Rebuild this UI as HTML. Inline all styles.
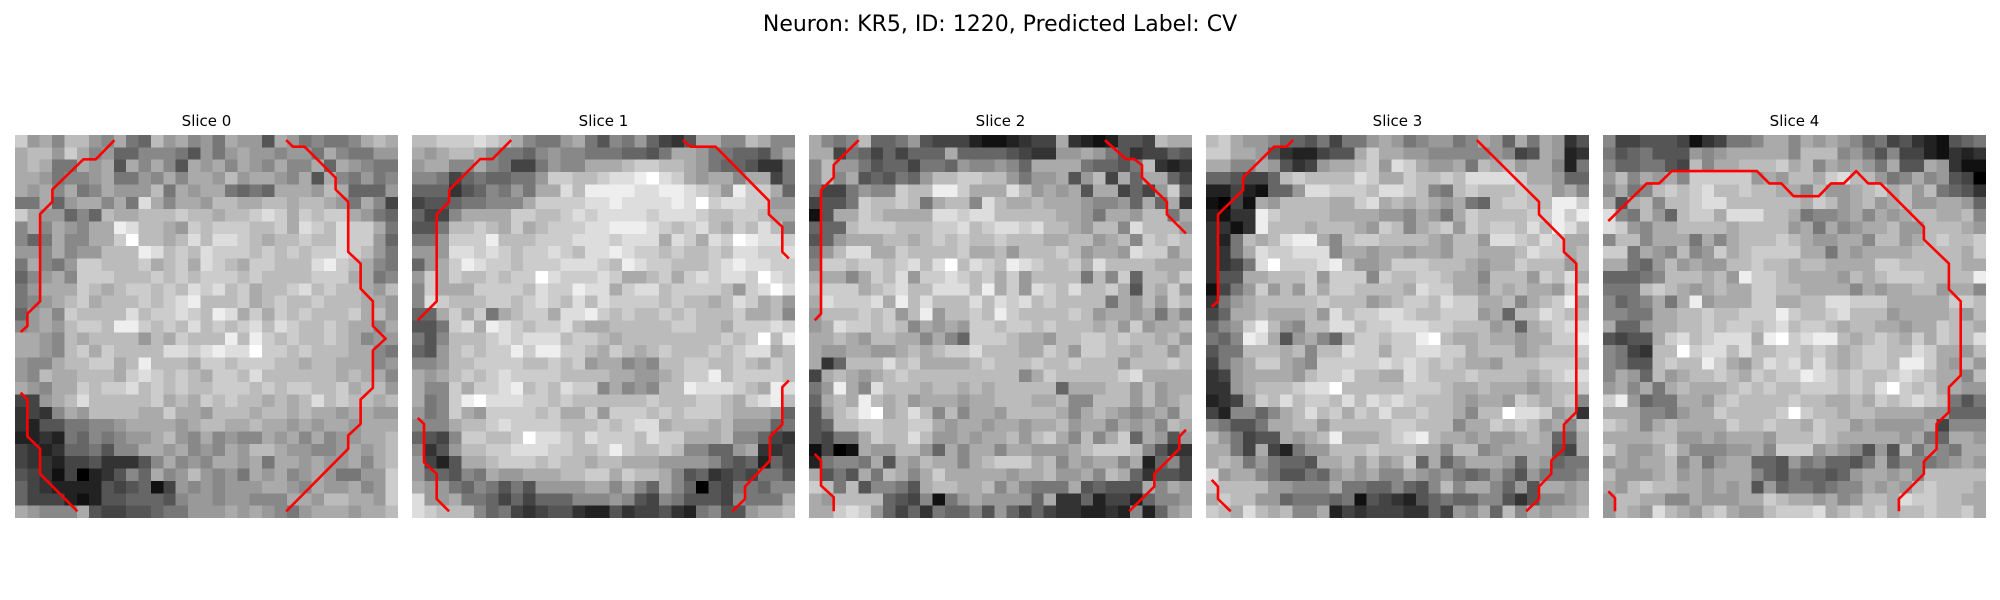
<!DOCTYPE html>
<html><head><meta charset="utf-8"><style>
html,body{margin:0;padding:0;background:#fff;}
svg{display:block;font-family:"DejaVu Sans","Liberation Sans",sans-serif;}
</style></head><body>
<svg id="fig" width="2000" height="600" viewBox="0 0 2000 600">
<text x="1000" y="31" text-anchor="middle" font-size="22" fill="#000">Neuron: KR5, ID: 1220, Predicted Label: CV</text>
</svg>
<script>
const sliceTitles=["Slice 0","Slice 1","Slice 2","Slice 3","Slice 4"];
const img0=["c9a8bb98a76b9a897a995a978778aba","abb9ca896688875979a998997a87799","aba77a9a5a8a85a9a8a98a88a6a9877","aa97889a7798a8aa9b9aa98a5a87978","a9a8a78a999b7a9aa7676aaa9ba6669","77a69aa8a7da8aa9bbaabbabba97a84","ca99686baabbbcbbabbcdcacbcca976","8a8a98aaedbba9cbcccbbcadcbdcca7","867a88aacfbbabdbddcbabbcbbdcc96","998a899bbbedbcbdcccbcbcbccdcb97","7a879ccbbbcabcadcbaccbbbdecba87","689a8cccbbbcbcbcccbcbbbbcccaa78","79aaacbabccbcbdcdbcabbcdbcbba9b","789abcabbbcbcdebbbcabcbbcbbbaa9","69a8cbbbbdbccdcbedacacbcbbbcab9","89a9bccbeecbcbdbcbcdbdcbbcbaa8a","aa98babbbb9bacbbbebecbcbbcba899","aa98bcacbbbbddcdeddfccbcbbbaa87","988abbccabebbbaccbcccbbabbaaa89","98baabbbacdcbcbaccbdbbbbbbabaa8","a98aacbccdbcbcbbcccbcbccbbcabb9","449abdbbbbbcabacbcbbababdbcbbab","3438a9bbbbaacaa9bbbabbabaa9aa99","325577889aaaa9abbaabaa9a9aa9aaa","22327687899ab98a8988a9a8a899aab","4323667588aa9a898a9bba99889a9ab","433244533358a898aa9a7aa9a99a8ab","54314023586a89b9897a9a89a97799c","64322225456149898999aa98a99a89c","6444212556665899899888aa9bbaa9c","a9888a54455677999a9a9879aaa9aab"];
const img1=["bbcccdcba8779a758796435aa88ba88","a9abba877689887776657aa9776658a","9aa88a87447988aaabccbba97665337","88746766779ccbbcddefdca9aa8aa47","6663568797aadbeeeeddeedcb9ecca6","455677888accccddeddddedfcddcc99","6448aaaaccbbcdcddddcdddcbbccbaa","557bbcbacabcccddeeedcbcdbacbdb8","779cccebbbcccdddcdddadcadcfeddc","999ddcdcbccdcbddedccbcbbcbddccd","69acedccbcccdddcbedccbbbcdeddcc","9cacbbcbccfdcccdcaabcacdcddcfdc","8caaaccccbdcceddacddbccccb9cdfd","8dcbbbccbcdcbdbdccccbcbbabdcab9","66acac7abccaddecbcbbcbcbbbcaab8","557cdaedcbccdbaabbbbbccbbacccdc","758bbbcdcdddbccbabbbbbbbbcbcfbe","659bcbcceceeccbacbabcbbbcbcddab","889bbccccbbcbc9aa898bbccbbcbacb","a9abcbcdccccbbbbaa99abccebccccb","a88caccdebcbdcc8a898bbedddcbaed","a78cefdddccbcbbbbbbcbbbccbacdeb","978ca9ccccbcaac9cccbcbcccbaaa96","888abbcdccccbbbcbcddabbbab99967","6548ccbbcfddcbdcccbdccaaab88643","8359bbccdddccbbcecbbcb88669a334","9425aabcccbcbbabbaaa99998656264","966587a99aaabbccacbba8563454775","a9976875759999aa8a86a8605477688","d99a77646466688898548755548777a","dcbbb86743455322534453278559aab"];
const img2=["a878b667954442112344a3212554baa","aa476464666a6666543399a97534465","8b9975664776988986aaaa76657b323","8b8a565769bbccbb9799a59b4a6aa64","7447988cbbeecaaadb9a9a5aa4649c6","4557cbbcb7abb8dbaabaaa98896a6a3","15aacbaaaaddcddbbbbbaa97aa9bb7a","666bcccbbbccdbcddcdbba9bb8dbbb9","569aaabbabcbcbbcbbbaabb9ab8cbcb","79bddaacbbbbcaab9bbbcb9aa9dcc9b","8ccbccbcdbdfbdcbedcbbcadbbbbaaa","aaa8acbd9ccdcbcac9bbbb7b8c6bbac","bcccabcdbbdddbeac9dcbdbbca5bac9","adcccdaebdbbbdbdcdbcbbbb7a9b9cb","9bbbcbc9be9bbcbecbbbbcb9aa9a7a8","9adccbcb8a9a9ccbccbcbbbab9c9aab","aaba9bbaa8a86cccbaa9bbccbcbbab9","a99aa99ababccdbbbaacb9ccbbabb9b","a36bbbdbcaaaabcbbbcbbcbbb9bbbcb","4aba9abcbbbbbbbbb8acbbbbbcdaaaa","79ea8dbbbabbababbbbb6aaabb9b9aa","6abaebab9aaa9aabbbaab88bbb9b9ab","59bcefabdb8b8aa9bbbba8aba989a8b","56bbccbbcca9aa9aa9aab9aa8a9a8ba","5477acbbdb99a9aab9bca8b8ac6a959","1401a99bb96a8aa8aa999abcccb8533","27887a5a9baa8abcccab8a9aa8a2684","a575a7ba8acaaaaa9aab99a8ba63554","cb7b58875abbaab8a8777a56555a8a9","a9bbbb6548179a99996a33624426889","aacdc9646376685964643322328269a"];
const img3=["bca99866574779a9789978a96a7a935","ccaa95322455acaa99888889845a923","aa88a95349aabc9dca99a7bab9aa827","665446bcbbbbdcaacbbcbddddcaa966","22421669ddcccbddcb87bcbbbcbb9a8","1041a9bbbbaacdababa9a76bccbbeec","2133ecbbbbaaaa998a97acbbbbccece","3313ebbbabbba9cb8abc9cbccbdbedb","327babdeea8bccbbbba9bb9ddcbdcaa","337adccddd8aa9aa9aa9bbaaabdccab","3347dfcccdeb99acccbbba9aacbbb9b","355aabbbc9ccc8cbbccbaa8bbb9cbda","1479c9b9caccbbbbadccaa9babaa9cd","379abbbbbcbbb9abccbdccaab8abcea","46aabaaab9dbccddcbbccc9a6bbdcbb","689ceb98bbddbccdddccbbb9a6abcdd","768eda59a86accbccefbaabaa9aacce","577bbbab8bbdccaccddccabbb9abbbc","479acca98cccccdcdcbcbaa9bbbcccb","349aaaa9bccdbbaadcbbbcbbbbabcdd","339abbbcddfbbbbbcccbaabaaa9abbc","2349cbdbccbdbdcdcbbba9aa9cbabc8","428868abdbcacbdbbcbba8bbfddc9a3","87557aabb9bbbbbccbbb8aacbcb9a8b","b97455a9abeaaabcdebaa9a99aba66a","aa74a42799bbbcbbbaa8bb89aaaa54a","aba797665aab9b9ac6a68aaa96a9677","d9aa8755769a9a88a98976797597778","cbbbb99888a77668658b8aa8695aa9a","acbb99677767154325676688535889a","cbadbab88a243444336498a6b8a9aab"];
const img4=["8445554134778aa8a9a986745321567","7567555989aaaaa8bbb897584421323","8667754b8aabbbcab8a9a97a55a9311","9b8a9a8ccccc9a9bbacdbb978a89540","8a78bcbcdbbcbbaa8b99abcab9b7653","a5ab8bbcddbbbbbbacb9ab9ab99aa96","d87b96bccadddbba7889a8a9abbaab8","dc98aabbbbabbbb9a7a89aab99bbba9","8bb8aaa7a8abbbcba99aa8bb9abcbbc","cc7a98b89cabccccaa7a9aaaabbbbac","aa769b9a99bbcbbabbaaaaccbbbbbaa","66678bbbab9eccbaaaa9babcccbbbbe","777bcba9abaaccbbaaaa8a9aabb9aa8","8678a7ae9aaaccaabbddcccaaaaaccb","8877aabbcbbcccecbbcdbbb9aaaab9b","a669aabbcbccbcdbccbabbaa9aacbba","5455acdbcdddaefcdeebabcbacacbbd","8743bbfcddbdbbccbcbabccbbdcaa9b","8755bcbbeca9bdcdbdbabccbeeca9b9","8a96b9abbcbacbccedcbcbbcdcbaa8b","9a8a7abaaabcbcbbcccbcbdfcbcaa99","ce9677aa9bcbbbbcbbaabacbcdcb757","aaa8879aacbbbbcfcbbabbaaaa99666","cba8abaaaacbbcbbacbb9a9999a4888","aaaabb99a9aaa9bbbcbaaaaa9a76aa9","ca99aca88899a8ccc9a98595b7987aa","9a9aab8a79aa6659786657a688789a9","b999ab9a9aaa865766569aa9a8bbbbb","a9bcbbaa9a9a596776788a9a9bcbbba","9bbaa88a999aacbaa9a89bbadccbbaa","9ba9dba9bca99bcccdabcbcabbcbbca"];
const images=[img0,img1,img2,img3,img4];
const contours0=[[[8.05,0.41],[6.54,1.97],[5.54,1.97],[3.03,4.4],[3.03,5.4],[2.03,6.4],[2.03,13.46],[1,14.46],[1,15.46],[0.46,15.95]],[[21.95,0.41],[22.49,0.95],[23.43,0.95],[25.95,3.46],[25.95,4.41],[26.97,5.41],[26.97,9.46],[27.97,10.41],[27.97,12.43],[28.97,13.46],[28.97,15.46],[30,16.49],[28.97,17.43],[28.97,20.46],[27.97,21.41],[27.97,23.38],[26.97,24.32],[26.97,25.4],[21.95,30.46]],[[0.46,20.86],[1,21.4],[1,24.4],[2.03,25.4],[2.03,27.43],[5.05,30.46]]];
const contours1=[[[8.03,0.41],[6.51,1.95],[5.51,1.95],[3,4.46],[3,5.41],[2,6.43],[2,13.46],[0.46,15]],[[21.92,0.41],[22.54,0.95],[24.57,0.95],[28.89,5.32],[28.89,6.43],[29.97,7.43],[29.97,9.46],[30.51,10]],[[0.46,22.9],[0.97,23.38],[0.97,26.49],[2,27.43],[2,29.46],[3,30.46]],[[30.51,19.86],[29.97,20.41],[29.97,23.43],[28.97,24.41],[28.97,26.35],[26.95,28.46],[26.95,29.46],[25.92,30.46]]];
const contours2=[[[4.03,0.41],[2,2.43],[2,3.43],[0.97,4.46],[0.97,14.46],[0.46,15]],[[23.95,0.41],[25.65,1.95],[26.32,1.95],[26.95,2.43],[26.95,3.43],[28.97,5.41],[28.97,6.43],[30.51,7.97]],[[0.46,25.81],[0.97,26.35],[0.97,28.38],[2,29.32],[2,30.46]],[[30.51,23.86],[29.97,24.41],[29.97,25.41],[27.95,27.43],[27.95,28.46],[25.92,30.46]]];
const contours3=[[[7.05,0.41],[6.51,0.95],[5.51,0.95],[3,3.43],[3,4.46],[0.97,6.43],[0.97,13.46],[0.46,13.92]],[[21.92,0.41],[26.95,5.41],[26.95,6.43],[28.97,8.46],[28.97,9.46],[29.97,10.41],[29.97,22.43],[28.97,23.43],[28.97,25.41],[27.95,26.35],[27.95,27.43],[26.95,28.46],[26.95,29.46],[25.92,30.46]],[[0.46,27.92],[0.97,28.46],[0.97,29.46],[2,30.46]]];
const contours4=[[[0.43,6.97],[3.54,3.92],[4.54,3.92],[5.57,2.92],[12.46,2.92],[13.46,3.92],[14.43,3.92],[15.43,4.95],[17.46,4.95],[18.46,3.92],[19.49,3.92],[20.49,2.92],[21.46,3.92],[22.46,3.92],[25.97,7.43],[25.97,8.46],[28,10.41],[28,12.49],[28.95,13.46],[28.95,19.46],[28,20.41],[28,22.43],[27,23.38],[27,25.41],[25.97,26.43],[25.97,27.43],[23.95,29.46],[23.95,30.46]],[[0.43,28.84],[0.97,29.38],[0.97,30.46]]];
const contours=[contours0,contours1,contours2,contours3,contours4];

const NS="http://www.w3.org/2000/svg";
const svg=document.getElementById('fig');
const N=31, panelW=383, left0=15, step=397, top0=135;
const cs=panelW/N;
function px(i,c){return left0+i*step+c*cs;}
function py(r){return top0+r*cs;}
images.forEach((rows,i)=>{
  const g=document.createElementNS(NS,'g');
  
  
  svg.appendChild(g);
  const t=document.createElementNS(NS,'text');
  
  
  t.setAttribute('x',px(i,N/2));t.setAttribute('y',126);
  t.setAttribute('text-anchor','middle');t.setAttribute('font-size','15');
  t.textContent=sliceTitles[i];
  g.appendChild(t);
  const hg=document.createElementNS(NS,'g');
  
  
  hg.setAttribute('shape-rendering','crispEdges');
  g.appendChild(hg);
  for(let r=0;r<N;r++){
    let row=(rows[r]||"").padEnd(N,'9');
    for(let c=0;c<N;c++){
      const v=parseInt(row[c],16); const gv=Math.round(v*17);
      const rc=document.createElementNS(NS,'rect');
      
      
      const w=(c===N-1)?cs:cs+0.6, h=(r===N-1)?cs:cs+0.6;
      rc.setAttribute('x',px(i,c).toFixed(2));rc.setAttribute('y',py(r).toFixed(2));
      rc.setAttribute('width',w.toFixed(2));rc.setAttribute('height',h.toFixed(2));
      rc.setAttribute('fill','rgb('+gv+','+gv+','+gv+')');
      hg.appendChild(rc);
    }
  }
  contours[i].forEach((line,k)=>{
    const p=document.createElementNS(NS,'polyline');
    
    
    p.setAttribute('points',line.map(q=>px(i,q[0]).toFixed(1)+','+py(q[1]).toFixed(1)).join(' '));
    p.setAttribute('fill','none');p.setAttribute('stroke','#ff0000');
    p.setAttribute('stroke-width','2.6');p.setAttribute('stroke-linejoin','round');
    g.appendChild(p);
  });
});
</script>
</body></html>
